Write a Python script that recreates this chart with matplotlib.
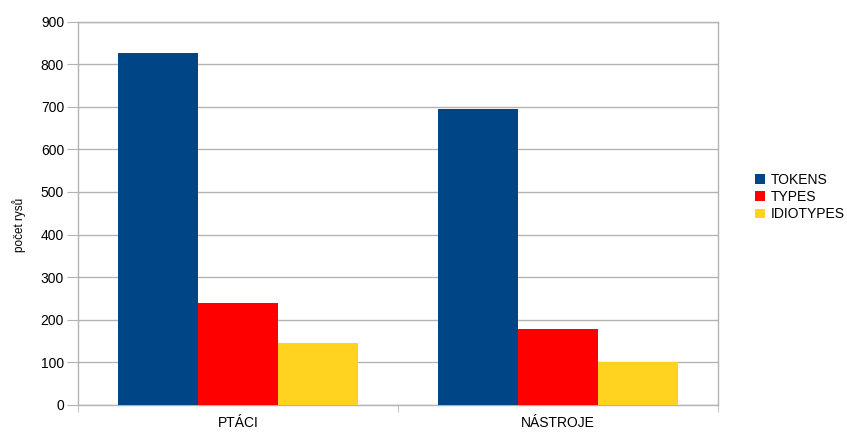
import numpy as np
import matplotlib
matplotlib.use('Agg')
import matplotlib.pyplot as plt
from matplotlib.patches import Patch

# data
categories = ['PTÁCI', 'NÁSTROJE']
series = ['TOKENS', 'TYPES', 'IDIOTYPES']
tokens = [825, 695]
types_ = [240, 179]
idiotypes = [145, 101]
values = [tokens, types_, idiotypes]
colors = ['#004586', '#ff0000', '#ffd320']

plt.rcParams['font.family'] = ['Liberation Sans', 'DejaVu Sans']

fig = plt.figure(figsize=(8.47, 4.32), dpi=100)
ax = fig.add_axes([0.0921, 0.0625, 0.7556, 0.8877])

x = np.arange(len(categories))
width = 0.25
for i, (name, vals, c) in enumerate(zip(series, values, colors)):
    ax.bar(x + (i - 1) * width, vals, width, color=c, label=name, zorder=3)

grid_c = '#b3b3b3'
ax.set_xlim(-0.5, len(categories) - 0.5)
ax.set_ylim(0, 900)
ax.set_yticks(range(0, 901, 100))
ax.yaxis.grid(True, color=grid_c, linewidth=1, zorder=0)
for s in ax.spines.values():
    s.set_color(grid_c)
    s.set_linewidth(1)

ax.set_xticks(x)
ax.set_xticklabels(categories, fontsize=10)
ax.set_xticks(np.arange(-0.5, len(categories), 1), minor=True)
ax.tick_params(axis='x', which='major', length=0, pad=8)
ax.tick_params(axis='x', which='minor', length=5, color=grid_c)
ax.tick_params(axis='y', length=8, color=grid_c, labelsize=10, pad=2)

ax.set_ylabel('počet rysů', fontsize=8.5)
ax.yaxis.set_label_coords(-0.082, 0.47)

handles = [Patch(facecolor=c, label=n) for n, c in zip(series, colors)]
fig.legend(handles=handles, loc='center left', bbox_to_anchor=(0.885, 0.544),
           frameon=False, fontsize=10, handlelength=0.7, handleheight=0.7,
           handletextpad=0.4, labelspacing=0.25, borderaxespad=0)

fig.savefig('out.png', dpi=100)
